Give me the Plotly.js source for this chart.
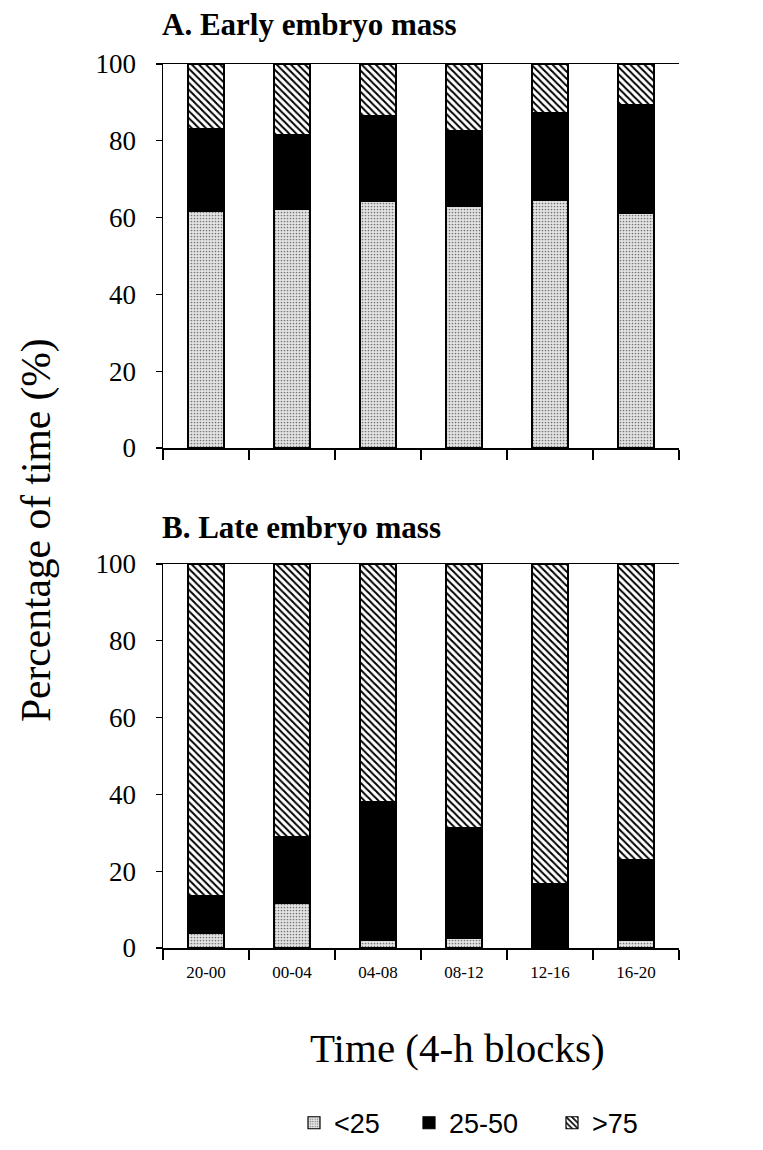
<!DOCTYPE html>
<html>
<head>
<meta charset="utf-8">
<script src="https://cdn.plot.ly/plotly-3.0.1.min.js"></script>
<style>html,body{margin:0;padding:0;background:#fff;}#chart{width:763px;height:1150px;}</style>
</head>
<body>
<div id="chart"></div>
<script>
// Categories (4-h time blocks)
var blocks = ["20-00", "00-04", "04-08", "08-12", "12-16", "16-20"];
var seriesNames = ["<25", "25-50", ">75"];

// A. Early embryo mass (% of time)
var earlyLow  = [61.5, 62.2, 64.3, 63.0, 64.4, 61.0];
var earlyMid  = [21.6, 19.4, 22.2, 19.6, 22.9, 28.4];
var earlyHigh = [16.9, 18.4, 13.5, 17.4, 12.7, 10.6];

// B. Late embryo mass (% of time)
var lateLow  = [3.7, 11.5, 1.9, 2.4, 0.4, 2.0];
var lateMid  = [10.0, 17.4, 36.3, 28.9, 16.4, 21.1];
var lateHigh = [86.3, 71.1, 61.8, 68.7, 83.2, 76.9];

var yTicks = [0, 20, 40, 60, 80, 100];

var serif = "Liberation Serif, Times New Roman, serif";
var sans = "Liberation Sans, Arial, sans-serif";

var styles = [
  {color: "#e4e4e4", line: {color: "#000", width: 1.2},
   pattern: {shape: ".", fgcolor: "#777", bgcolor: "#e4e4e4", size: 3, solidity: 0.25}},
  {color: "#000", line: {color: "#000", width: 1.2}},
  {color: "#fff", line: {color: "#000", width: 1.2},
   pattern: {shape: "\\", fgcolor: "#000", bgcolor: "#fff", size: 5, solidity: 0.4}}
];
var legendIds = ["legend", "legend2", "legend3"];

function mk(vals, i, xa, ya, show) {
  return {
    type: "bar", x: blocks, y: vals, name: seriesNames[i],
    xaxis: xa, yaxis: ya, marker: styles[i], showlegend: show,
    legend: legendIds[i], hoverinfo: "x+y+name"
  };
}

var data = [
  mk(earlyLow, 0, "x", "y", true),
  mk(earlyMid, 1, "x", "y", true),
  mk(earlyHigh, 2, "x", "y", true),
  mk(lateLow, 0, "x2", "y2", false),
  mk(lateMid, 1, "x2", "y2", false),
  mk(lateHigh, 2, "x2", "y2", false)
];

var W = 763, H = 1150;
function py(p) { return 1 - p / H; }
var xd = [163 / W, 679 / W];

var xBase = {
  domain: xd, type: "category", showline: true, linecolor: "#000", linewidth: 1.5,
  mirror: true, ticks: "outside", tickson: "boundaries", ticklen: 10, tickwidth: 1.2,
  tickcolor: "#000", showgrid: false, zeroline: false, fixedrange: true
};
var yBase = {
  range: [0, 100], tickvals: yTicks, ticktext: yTicks.map(String),
  showline: true, linecolor: "#000", linewidth: 1.5, ticks: "outside", ticklen: 6,
  tickwidth: 1.2, tickcolor: "#000", showgrid: false, zeroline: false,
  tickfont: {family: serif, size: 27, color: "#000"}, ticklabelstandoff: 14,
  fixedrange: true
};

function leg(xpx) {
  return {
    orientation: "h", x: xpx / W, xanchor: "left", y: 0.002, yanchor: "bottom",
    font: {family: sans, size: 27, color: "#000"}, bgcolor: "rgba(0,0,0,0)",
    itemwidth: 30
  };
}

var layout = {
  width: W, height: H, margin: {l: 0, r: 0, t: 0, b: 0, autoexpand: false},
  paper_bgcolor: "#fff", plot_bgcolor: "#fff",
  barmode: "stack", bargap: 0.58,
  showlegend: true,
  xaxis: Object.assign({}, xBase, {anchor: "y", showticklabels: false}),
  yaxis: Object.assign({}, yBase, {domain: [py(448), py(64)], anchor: "x"}),
  xaxis2: Object.assign({}, xBase, {anchor: "y2", showticklabels: true,
    tickfont: {family: serif, size: 17, color: "#000"}, ticklabelstandoff: 8}),
  yaxis2: Object.assign({}, yBase, {domain: [py(948), py(564)], anchor: "x2"}),
  legend: leg(294),
  legend2: leg(409),
  legend3: leg(552),
  annotations: [
    {text: "<b>A. Early embryo mass</b>", x: 160 / W, y: py(25), xref: "paper", yref: "paper",
     xanchor: "left", yanchor: "middle", showarrow: false,
     font: {family: serif, size: 31, color: "#000"}},
    {text: "<b>B. Late embryo mass</b>", x: 160 / W, y: py(528), xref: "paper", yref: "paper",
     xanchor: "left", yanchor: "middle", showarrow: false,
     font: {family: serif, size: 31, color: "#000"}},
    {text: "Percentage of time (%)", x: 36 / W, y: py(530), xref: "paper", yref: "paper",
     xanchor: "center", yanchor: "middle", showarrow: false, textangle: -90,
     font: {family: serif, size: 41.5, color: "#000"}},
    {text: "Time (4-h blocks)", x: 457 / W, y: py(1048), xref: "paper", yref: "paper",
     xanchor: "center", yanchor: "middle", showarrow: false,
     font: {family: serif, size: 41, color: "#000"}}
  ]
};

Plotly.newPlot("chart", data, layout, {displayModeBar: false, staticPlot: true});
</script>
</body>
</html>
